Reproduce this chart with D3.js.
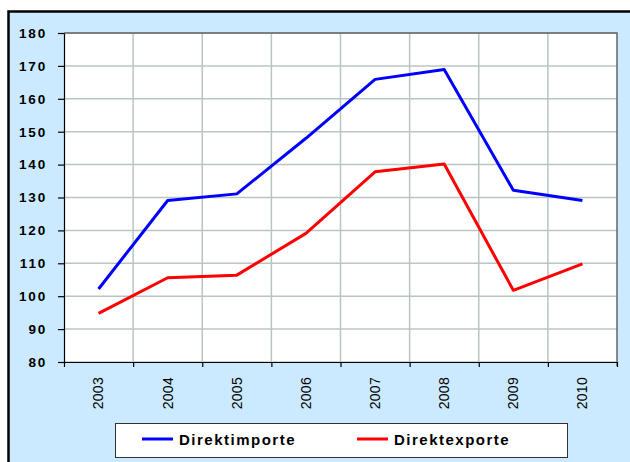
<!DOCTYPE html>
<html>
  <head>
    <script src="https://d3js.org/d3.v7.min.js"></script>
    <style>
      body { margin: 0; background: #fff; }
      text { font-family: "Liberation Sans", Arial, sans-serif; }
    </style>
  </head>
  <body>
    <svg width="630" height="462"></svg>

    <script type="text/javascript">
      // data
      var years = ["2003", "2004", "2005", "2006", "2007", "2008", "2009", "2010"];
      var importe = [102.2, 129.1, 131.1, 148, 165.9, 168.9, 132.2, 129.1];
      var exporte = [94.8, 105.6, 106.4, 119.1, 137.8, 140.2, 101.8, 109.8];
      var yTicks = [80, 90, 100, 110, 120, 130, 140, 150, 160, 170, 180];
      var seriesNames = ["Direktimporte", "Direktexporte"];
      var seriesColors = ["#0000ff", "#ff0000"];

      var svg = d3.select("svg"),
        margin = { top: 33, right: 13, bottom: 100, left: 64 },
        width = 630 - margin.left - margin.right,
        height = 462 - margin.top - margin.bottom;

      // outer frame
      svg.append("rect")
        .attr("x", 8.5).attr("y", 11.5)
        .attr("width", 640).attr("height", 470)
        .attr("fill", "#cceaff")
        .attr("stroke", "#000")
        .attr("stroke-width", 2.5);

      var g = svg.append("g")
        .attr("transform", "translate(" + margin.left + "," + margin.top + ")");

      var x = d3.scaleBand().domain(years).range([0, width]);
      var xEdge = d3.scaleLinear().domain([0, years.length]).range([0, width]);
      var y = d3.scaleLinear().domain([80, 180]).range([height, 0]);

      g.append("rect")
        .attr("width", width).attr("height", height)
        .attr("fill", "#fff");

      // grid
      g.selectAll(".hgrid").data(yTicks).enter().append("line")
        .attr("x1", 0).attr("x2", width)
        .attr("y1", function (d) { return y(d); })
        .attr("y2", function (d) { return y(d); })
        .attr("stroke", "#b8c6c1").attr("stroke-width", 1.5);

      g.selectAll(".vgrid").data(d3.range(1, years.length)).enter().append("line")
        .attr("x1", function (d) { return xEdge(d); })
        .attr("x2", function (d) { return xEdge(d); })
        .attr("y1", 0).attr("y2", height)
        .attr("stroke", "#b8c6c1").attr("stroke-width", 1.5);

      // top / right border
      g.append("path")
        .attr("d", "M0,0H" + width + "V" + (height + 4))
        .attr("fill", "none")
        .attr("stroke", "#666")
        .attr("stroke-width", 1.5);

      // y axis
      var yAxis = g.append("g")
        .call(d3.axisLeft(y).tickValues(yTicks).tickSize(6).tickSizeOuter(0).tickPadding(11));
      yAxis.selectAll("text")
        .attr("fill", "#000")
        .style("font-size", "13.5px")
        .style("font-weight", "bold")
        .style("letter-spacing", "1.8px");
      yAxis.selectAll("line, path").attr("stroke", "#000").attr("stroke-width", 1.2);

      // x axis: ticks at category edges, labels at centers
      var xTicks = g.append("g")
        .attr("transform", "translate(0," + height + ")")
        .call(d3.axisBottom(xEdge).tickValues(d3.range(0, years.length + 1)).tickSize(5).tickSizeOuter(0).tickFormat(""));
      xTicks.selectAll("line, path").attr("stroke", "#000").attr("stroke-width", 1.2);

      var xLabels = g.append("g")
        .attr("transform", "translate(0," + height + ")")
        .call(d3.axisBottom(x).tickSize(0));
      xLabels.select(".domain").remove();
      xLabels.selectAll("text")
        .attr("transform", "rotate(-90)")
        .attr("text-anchor", "end")
        .attr("x", -15)
        .attr("y", 0)
        .attr("dy", "0.35em")
        .attr("fill", "#000")
        .style("font-size", "14px")
        .style("letter-spacing", "0.3px");

      // lines
      var line = d3.line()
        .x(function (d, i) { return x(years[i]) + x.bandwidth() / 2; })
        .y(function (d) { return y(d); });

      [importe, exporte].forEach(function (s, i) {
        g.append("path")
          .attr("fill", "none")
          .attr("stroke", seriesColors[i])
          .attr("stroke-width", 3)
          .attr("stroke-linejoin", "round")
          .attr("d", line(s));
      });

      // legend
      var legend = svg.append("g");
      legend.append("rect")
        .attr("x", 115.5).attr("y", 423.5)
        .attr("width", 452).attr("height", 34)
        .attr("fill", "#fff")
        .attr("stroke", "#333");

      var legendX = [142, 357];
      seriesNames.forEach(function (name, i) {
        legend.append("line")
          .attr("x1", legendX[i]).attr("x2", legendX[i] + 31)
          .attr("y1", 439).attr("y2", 439)
          .attr("stroke", seriesColors[i])
          .attr("stroke-width", 3);
        legend.append("text")
          .attr("x", legendX[i] + 37)
          .attr("y", 444.5)
          .style("font-size", "15px")
          .style("font-weight", "bold")
          .style("letter-spacing", "1.5px")
          .text(name);
      });
    </script>
  </body>
</html>
